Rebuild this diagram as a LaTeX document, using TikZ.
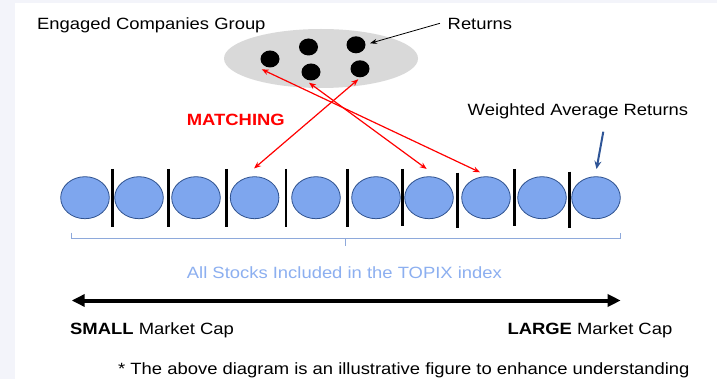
\documentclass[tikz,border=0pt]{standalone}
\usepackage{fontspec}
\setmainfont{Liberation Sans}[FakeStretch=1.13]
\usetikzlibrary{shapes.geometric,arrows.meta}
\definecolor{bgedge}{HTML}{F3F4FA}
\definecolor{circfill}{HTML}{7EA6EE}
\definecolor{circline}{HTML}{2F528F}
\definecolor{bracecol}{HTML}{8EA9DB}
\definecolor{topixcol}{HTML}{8CAFF0}
\definecolor{groupfill}{HTML}{D9D9D9}
\definecolor{wblue}{HTML}{2F5597}
\definecolor{matchred}{HTML}{FF0000}
\begin{document}
\begin{tikzpicture}[x=1pt,y=-1pt,
  txt/.style={anchor=base west,inner sep=0pt,font=\fontsize{16.3}{19}\selectfont},
  stock/.style={ellipse,draw=circline,line width=0.8pt,fill=circfill,minimum width=48.6pt,minimum height=42pt,inner sep=0pt},
  dot/.style={ellipse,fill=black,minimum width=19pt,minimum height=17pt,inner sep=0pt},
  divider/.style={line width=2.6pt,black},
  bracestyle/.style={bracecol,line width=0.9pt},
  matcharrow/.style={matchred,line width=1.2pt,{Stealth[length=7pt,width=5.5pt]}-{Stealth[length=7pt,width=5.5pt]}},
  bigarrow/.style={line width=4pt,{Triangle[length=13pt,width=12pt]}-{Triangle[length=13pt,width=12pt]}}
]
\useasboundingbox (0,0) rectangle (717,379);
\fill[white] (0,0) rectangle (717,379);
\fill[bgedge] (0,0) rectangle (15,379);
\fill[bgedge] (0,0) rectangle (717,3.3);

% engaged group
\node[ellipse,fill=groupfill,minimum width=194pt,minimum height=59pt,inner sep=0pt] (grp) at (321,58.5) {};
\node[dot] (d1) at (270,59) {};
\node[dot] (d2) at (308.5,47) {};
\node[dot] (d3) at (356,44.8) {};
\node[dot] (d4) at (311,72) {};
\node[dot] (d5) at (360,68.8) {};

% stocks
\foreach \i/\x in {1/85,2/139,3/196,4/254.6,5/316,6/376,7/429,8/486,9/542,10/596}
  \node[stock] (s\i) at (\x,197.7) {};
\foreach \x/\a/\b in {112.7/169/227,168.3/169/227,226.7/169/227,286/169/227,347.7/169/227,402.3/169/226,457.3/172.7/228.3,514.3/169/226,569.3/171.7/228.3}
  \draw[divider] (\x,\a) -- (\x,\b);

% brace
\draw[bracestyle] (71,232.7) -- (71,238.3) -- (620.3,238.3) -- (620.3,232.7);
\draw[bracestyle] (345.7,238.3) -- (345.7,245.7);

% texts
\node[txt] (t1) at (37,29.3) {Engaged Companies Group};
\node[txt] (t2) at (447.5,29.5) {Returns};
\node[txt,text=matchred,font=\fontsize{16.3}{19}\selectfont\bfseries] (t3) at (186.7,126) {MATCHING};
\node[txt] (t4) at (467.5,115.5) {Weighted Average Returns};
\node[txt,text=topixcol] (t5) at (186.7,278.3) {All Stocks Included in the TOPIX index};
\node[txt] (t6) at (70,334) {\textbf{SMALL} Market Cap};
\node[txt] (t7) at (507.3,334) {\textbf{LARGE} Market Cap};
\node[txt] (t8) at (118,374) {* The above diagram is an illustrative figure to enhance understanding};

% arrows
\coordinate (r0) at (440,23.3);
\coordinate (r1) at (370,43.3);
\draw[line width=0.8pt,-{Stealth[length=7pt,width=5pt]}] (r0) -- (r1);

\coordinate (a1) at (261.7,69.3);
\coordinate (a2) at (480,172.3);
\coordinate (b1) at (309,82.7);
\coordinate (b2) at (426.7,169);
\coordinate (c1) at (358.3,79.3);
\coordinate (c2) at (254,168.5);
\draw[matcharrow] (a1) -- (a2);
\draw[matcharrow] (b1) -- (b2);
\draw[matcharrow] (c1) -- (c2);

\coordinate (w0) at (603.3,131.7);
\coordinate (w1) at (596.5,169);
\draw[wblue,line width=2pt,-{Stealth[length=8pt,width=7pt]}] (w0) -- (w1);

\coordinate (sl) at (71.7,300.5);
\coordinate (lg) at (620.7,300.5);
\draw[bigarrow] (sl) -- (lg);
\end{tikzpicture}
\end{document}
